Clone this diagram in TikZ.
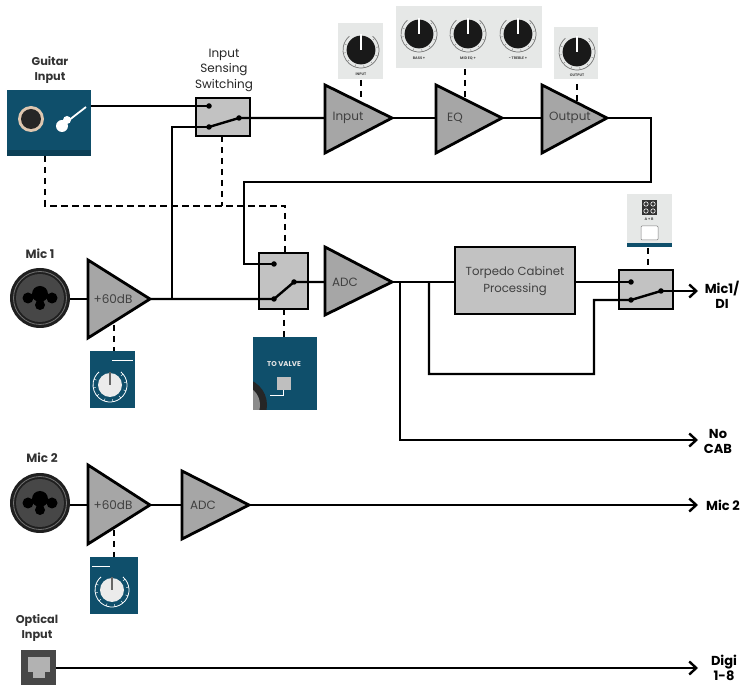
\documentclass[tikz,border=0pt]{standalone}
\usepackage{fontspec}
\setmainfont{Poppins}
\usetikzlibrary{arrows.meta,calc}
\definecolor{amp}{HTML}{A6A6A6}
\definecolor{swbox}{HTML}{C2C2C2}
\definecolor{teal}{HTML}{0F4F6B}
\definecolor{lbl}{HTML}{262626}
\definecolor{panel}{HTML}{E6E8E7}
\tikzset{
 x=1pt,y=-1pt,
 wire/.style={line width=2.4pt,black,line join=miter},
 arrowwire/.style={wire,-{Straight Barb[length=7pt,width=13pt,line width=2.4pt]}},
 ctrl/.style={line width=2.8pt,black,dash pattern=on 6.5pt off 4.5pt},
 ampshape/.style={fill=amp,draw=black,line width=2.8pt,line join=miter},
 swshape/.style={fill=swbox,draw=black,line width=2.8pt},
 amptext/.style={font=\fontsize{12}{12}\selectfont,text=black!75,inner sep=0pt},
 title/.style={font=\fontsize{12}{15.5}\selectfont,text=lbl,align=center,inner sep=0pt},
 titleb/.style={font=\bfseries\fontsize{11.3}{15.5}\selectfont,text=black,align=center,inner sep=0pt},
 titlec/.style={font=\bfseries\fontsize{13}{15}\selectfont,text=black,align=center,inner sep=0pt},
 tiny/.style={font=\bfseries\fontsize{3.6}{4}\selectfont,text=black!70,inner sep=0pt},
 contact/.style={circle,fill=black,inner sep=0pt,minimum size=5.5pt},
}
% triangle: name, left x, top y, bottom y, tip x, tip y
\newcommand{\ampl}[7]{%
 \coordinate (#1-a) at (#2,#3);\coordinate (#1-b) at (#2,#4);\coordinate (#1-tip) at (#5,#6);
 \coordinate (#1-in) at (#2,#6);
 \draw[ampshape] (#1-a) -- (#1-tip) -- (#1-b) -- cycle;
 \node[amptext] (#1-t) at ($(#2,#6)+(#7)$) {\csname amplabel#1\endcsname};
}
\newcommand{\knob}[3]{% x y r
 \begin{scope}[shift={(#1,#2)}]
  \draw[black!55,line width=.7pt] (-50:#3) arc[start angle=-50,end angle=230,radius=#3] ;
  \foreach \a in {-40,-10,...,220} \draw[black!45,line width=.5pt] (\a:#3*.86) -- (\a:#3);
  \fill[black!90] (0,0) circle[radius=#3*.8];
  \fill[white] (-1.4,0) rectangle (1.4,-#3*.9);
 \end{scope}
}
\newcommand{\gainknob}[2]{%
 \begin{scope}[shift={(#1,#2)}]
  \draw[white,line width=.8pt] (-50:17) arc[start angle=-50,end angle=230,radius=17];
  \foreach \a in {-40,-10,...,220} \draw[white,line width=.5pt] (\a:17) -- (\a:14.5);
  \fill[white!92!black] (0,0) circle[radius=12];
  \fill[black!60] (-1.3,0) rectangle (1.3,-13);
 \end{scope}
}
\newcommand{\combo}[2]{%
 \begin{scope}[shift={(#1,#2)}]
  \fill[black!88] (0,0) circle[radius=30];
  \draw[black!55,line width=.8pt] (0,0) circle[radius=26.5];
  \fill[black!72] (0,0) circle[radius=24];
  \fill[black] (-12,0) circle[radius=5.5] (12,0) circle[radius=5.5] (0,-4) circle[radius=8] (0,7) circle[radius=5];
 \end{scope}
}
\begin{document}
\begin{tikzpicture}
\useasboundingbox (0,0) rectangle (745,692);
\fill[white] (0,0) rectangle (745,692);

% ---------- panels
\fill[panel] (338,23) rectangle (383,79);
\knob{361}{50}{18}
\node[tiny] (pI) at (361,74) {INPUT};
\fill[panel] (396,6) rectangle (542,68);
\knob{419}{34}{18}\knob{468}{34}{18}\knob{518}{34}{18}
\node[tiny] (pB) at (419,58) {BASS +};
\node[tiny] (pM) at (468,58) {MID EQ +};
\node[tiny] (pT) at (518,58) {- TREBLE +};
\fill[panel] (554,27) rectangle (598,79);
\knob{577}{52}{18}
\node[tiny] (pO) at (577,75) {OUTPUT};

\fill[teal] (90,351) rectangle (135,408);
\gainknob{110}{385}
\draw[white,line width=.7pt] (112,360) -- (133,360);
\fill[teal] (90,557) rectangle (138,614);
\gainknob{112}{590}
\draw[white,line width=.7pt] (92,566) -- (110,566);

% to valve panel
\fill[teal] (253,337) rectangle (317,410);
\begin{scope}
 \clip (253,337) rectangle (317,410);
 \fill[black!85] (240,405) circle[radius=27];
 \fill[black!45] (240,405) circle[radius=20];
\end{scope}
\node[font=\bfseries\fontsize{7}{7}\selectfont,text=white!90!black,inner sep=0pt] (tv) at (284,364) {TO VALVE};
\fill[black!25] (277,377) rectangle (291,390);
\draw[white,line width=.7pt] (283,390) -- (283,395) -- (270,395);

% air panel
\fill[panel] (627,194) rectangle (672,243);
\fill[teal] (627,243) rectangle (672,247);
\fill[black!80] (642,200) rectangle (657,215);
\foreach \x/\y in {646/204,653/204,646/211,653/211}\draw[white,line width=.6pt] (\x,\y) circle[radius=2.2];
\node[tiny] (pA) at (649,219) {A + B};
\draw[black!50,fill=white,rounded corners=1pt,line width=.5pt] (641,226) rectangle (658,240);

% guitar input panel
\fill[teal] (7,90) rectangle (91,156);
\fill[teal!80!black] (7,150) rectangle (91,156);
\fill[black!10!brown!40] (31,119) circle[radius=13];
\fill[black!85] (31,119) circle[radius=10];
\fill[white] (62,126) circle[radius=6] (67,120) circle[radius=4];
\draw[white,line width=1.8pt] (64,124) -- (86,107);

% optical
\fill[black!72] (21,650) rectangle (56,685);
\fill[black!30] (28,657) rectangle (50,672);
\fill[black!30] (33,672) rectangle (45,678);

% combo jacks
\combo{40}{298}
\combo{40}{503}

% ---------- anchor coordinates
\coordinate (gOut) at (91,106);
\coordinate (gDash) at (45,156);
\coordinate (d1) at (45,206);
\coordinate (d2) at (285,206);
\coordinate (d3) at (222,206);
\coordinate (r1) at (651,182);
\coordinate (r2) at (244,182);
\coordinate (r3) at (651,118);
\coordinate (r4) at (244,264);
\coordinate (t1) at (172,299);
\coordinate (t2) at (172,127);
\coordinate (b1) at (400,282);
\coordinate (b2) at (400,440);
\coordinate (c1) at (429,282);
\coordinate (c2) at (429,374);
\coordinate (c3) at (594,374);
\coordinate (c4) at (594,300);
\coordinate (endDI) at (698,291);
\coordinate (endNC) at (698,440);
\coordinate (endM2) at (698,505);
\coordinate (endDg) at (698,668);

% ---------- dashed controls (below blocks)
\draw[ctrl] (gDash) -- (d1) -- (d2) -- (285,253);
\draw[ctrl] (222,136) -- (d3);
\draw[ctrl] (361,80) -- (361,99);
\draw[ctrl] (465,69) -- (465,97);
\draw[ctrl] (577,84) -- (577,102);
\draw[ctrl] (114,325) -- (114,351);
\draw[ctrl] (284,309) -- (284,337);
\draw[ctrl] (648,248) -- (648,270);
\draw[ctrl] (114,530) -- (114,557);

% ---------- blocks
\draw[swshape] (196,98) rectangle (250,136);
\draw[swshape] (259,253) rectangle (308,309);
\draw[swshape] (619,270) rectangle (673,309);
\draw[swshape] (455,247) rectangle (575,314);
\node[font=\fontsize{11.7}{17}\selectfont,text=black!75,align=center,inner sep=0pt] (torp) at (515,281) {Torpedo Cabinet\\Processing};

\expandafter\def\csname amplabelinp\endcsname{Input}
\expandafter\def\csname amplabeleq\endcsname{EQ}
\expandafter\def\csname amplabelout\endcsname{Output}
\expandafter\def\csname amplabeladcA\endcsname{ADC}
\expandafter\def\csname amplabelgainA\endcsname{+60dB}
\expandafter\def\csname amplabelgainB\endcsname{+60dB}
\expandafter\def\csname amplabeladcB\endcsname{ADC}
\ampl{inp}{325}{85}{153}{392}{118}{23,0}
\ampl{eq}{436}{85}{153}{502}{118}{19,0}
\ampl{out}{542}{85}{153}{607}{118}{28,0}
\ampl{adcA}{325}{247}{315}{392}{282}{20,0}
\ampl{gainA}{88}{260}{338}{150}{299}{25,0}
\ampl{gainB}{88}{465}{544}{150}{505}{25,0}
\ampl{adcB}{182}{471}{539}{249}{505}{21,0}

% ---------- contacts
\node[contact] (s1a) at (209,106) {};
\node[contact] (s1b) at (209,127) {};
\node[contact] (s1c) at (239,118) {};
\node[contact] (s2a) at (274,264) {};
\node[contact] (s2b) at (274,299) {};
\node[contact] (s2c) at (294,282) {};
\node[contact] (s3a) at (631,282) {};
\node[contact] (s3b) at (631,300) {};
\node[contact] (s3c) at (661,291) {};

% ---------- wires
\draw[wire] (gOut) -- (s1a.center);
\draw[wire] (s1b.center) -- (s1c.center) -- (inp-in);
\draw[wire] (inp-tip) -- (eq-in);
\draw[wire] (eq-tip) -- (out-in);
\draw[wire] (out-tip) -- (r3) -- (r1) -- (r2) -- (r4) -- (s2a.center);
\draw[wire] (s1b.center) -- (t2) -- (t1);
\draw[wire] (70,299) -- (gainA-in);
\draw[wire] (gainA-tip) -- (s2b.center) -- (s2c.center) -- (adcA-in);
\draw[wire] (adcA-tip) -- (455,282);
\draw[wire] (c1) -- (c2) -- (c3) -- (c4) -- (s3b.center) -- (s3c.center);
\draw[wire] (575,282) -- (s3a.center);
\draw[arrowwire] (s3c.center) -- (endDI);
\draw[arrowwire] (b1) -- (b2) -- (endNC);
\draw[wire] (70,505) -- (gainB-in);
\draw[wire] (gainB-tip) -- (adcB-in);
\draw[arrowwire] (adcB-tip) -- (endM2);
\draw[arrowwire] (56,668) -- (endDg);

% ---------- labels
\node[titleb,text=black!80] (lg) at (50,70) {Guitar\\Input};
\node[title] (ls) at (224,70) {Input\\Sensing\\Switching};
\node[titleb,text=black!80,font=\bfseries\fontsize{12}{15}\selectfont] (lm1) at (40,254) {Mic 1};
\node[titleb,text=black!80,font=\bfseries\fontsize{12}{15}\selectfont] (lm2) at (42,458) {Mic 2};
\node[titleb,text=black!80] (lop) at (37,628) {Optical\\Input};
\node[titlec] (ld) at (722,295) {Mic1/\\DI};
\node[titlec] (ln) at (718,441) {No\\CAB};
\node[titlec] (lm) at (723,505) {Mic 2};
\node[titlec] (ldg) at (724,668) {Digi\\1-8};
\end{tikzpicture}
\end{document}
